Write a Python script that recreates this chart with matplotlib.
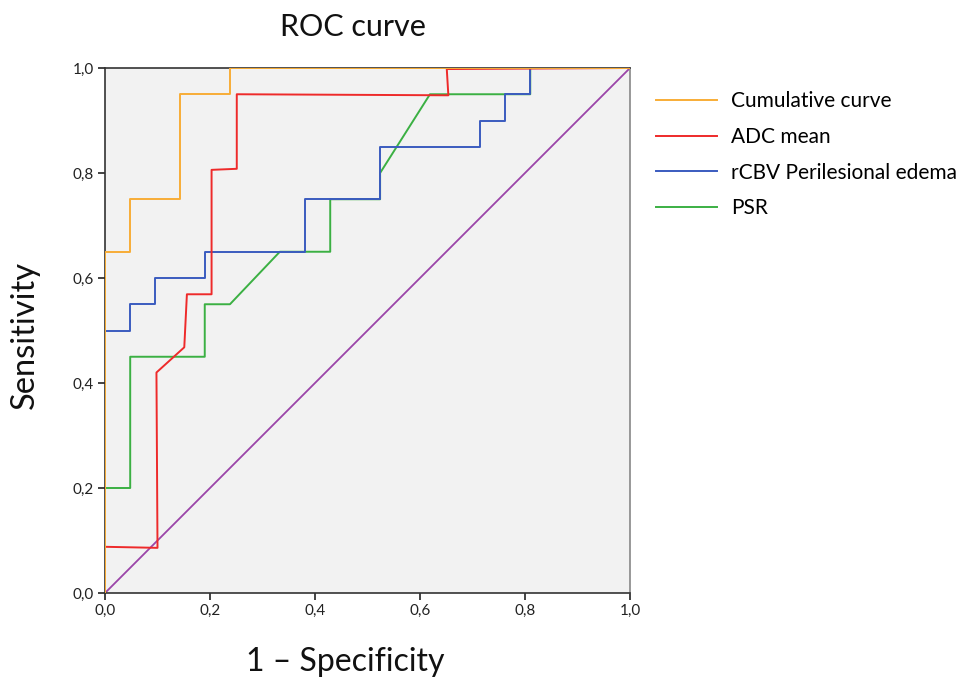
import matplotlib
matplotlib.use("Agg")
import matplotlib.pyplot as plt

plt.rcParams['font.family'] = ['Lato', 'DejaVu Sans']

# ---- data ----
series_names = ["Cumulative curve", "ADC mean", "rCBV Perilesional edema", "PSR"]
series_colors = ["#f8ad36", "#ee2a2a", "#3a5bbf", "#3bb043"]

cum_fpr = [0, 0, 0.048, 0.048, 0.143, 0.143, 0.238, 0.238, 1.0]
cum_tpr = [0, 0.65, 0.65, 0.75, 0.75, 0.95, 0.95, 1.0, 1.0]

adc_fpr = [0, 0, 0.100, 0.098, 0.151, 0.156, 0.203, 0.203, 0.251, 0.251, 0.654, 0.651, 1.0]
adc_tpr = [0, 0.088, 0.086, 0.42, 0.468, 0.569, 0.569, 0.806, 0.808, 0.95, 0.948, 0.998, 1.0]

rcbv_fpr = [0, 0, 0.048, 0.048, 0.095, 0.095, 0.190, 0.190, 0.381, 0.381, 0.524, 0.524,
            0.714, 0.714, 0.762, 0.762, 0.810, 0.810, 1.0]
rcbv_tpr = [0, 0.50, 0.50, 0.55, 0.55, 0.60, 0.60, 0.65, 0.65, 0.75, 0.75, 0.85,
            0.85, 0.90, 0.90, 0.95, 0.95, 1.0, 1.0]

psr_fpr = [0, 0, 0.048, 0.048, 0.190, 0.190, 0.238, 0.333, 0.429, 0.429, 0.524, 0.524,
           0.619, 0.810, 0.810, 1.0]
psr_tpr = [0, 0.20, 0.20, 0.45, 0.45, 0.55, 0.55, 0.65, 0.65, 0.75, 0.75, 0.80,
           0.95, 0.95, 1.0, 1.0]

ref_x = [0, 1]
ref_y = [0, 1]

tick_values = [0.0, 0.2, 0.4, 0.6, 0.8, 1.0]
tick_labels = ["0,0", "0,2", "0,4", "0,6", "0,8", "1,0"]

# ---- figure ----
fig = plt.figure(figsize=(9.65, 6.8), dpi=100)
ax = fig.add_axes([105 / 965, 87 / 680, 525 / 965, 525 / 680])
ax.set_facecolor("#f2f2f2")

ax.plot(ref_x, ref_y, color="#9b45a8", lw=1.3, zorder=2)
curves = [(cum_fpr, cum_tpr), (adc_fpr, adc_tpr), (rcbv_fpr, rcbv_tpr), (psr_fpr, psr_tpr)]
handles = []
for (fx, ty), name, col in zip(curves[::-1], series_names[::-1], series_colors[::-1]):
    h, = ax.plot(fx, ty, color=col, lw=1.4, label=name, zorder=3)
    handles.append(h)
handles = handles[::-1]

ax.set_xlim(0, 1)
ax.set_ylim(0, 1)
ax.set_xticks(tick_values)
ax.set_xticklabels(tick_labels)
ax.set_yticks(tick_values)
ax.set_yticklabels(tick_labels)
ax.tick_params(direction="out", length=5, width=1.2, labelsize=11, colors="#222222", pad=3)
for s in ["left", "bottom", "top"]:
    ax.spines[s].set_color("#333333")
    ax.spines[s].set_linewidth(1.2)
ax.spines["right"].set_color("#888888")
ax.spines["right"].set_linewidth(1.2)

fig.text(353 / 965, 1 - 27 / 680, "ROC curve", ha="center", va="center", fontsize=22, color="#111111")
fig.text(345 / 965, 1 - 662 / 680, "1 – Specificity", ha="center", va="center", fontsize=23, color="#111111")
fig.text(25 / 965, 1 - 335 / 680, "Sensitivity", ha="center", va="center", rotation=90,
         fontsize=23.5, color="#111111")

fig.legend(handles, series_names, loc="upper left", bbox_to_anchor=(656 / 965, 1 - 91 / 680),
           frameon=False, fontsize=15, handlelength=2.95, handletextpad=0.65, labelspacing=0.76,
           borderaxespad=0, borderpad=0)

fig.savefig("out.png", dpi=100)
